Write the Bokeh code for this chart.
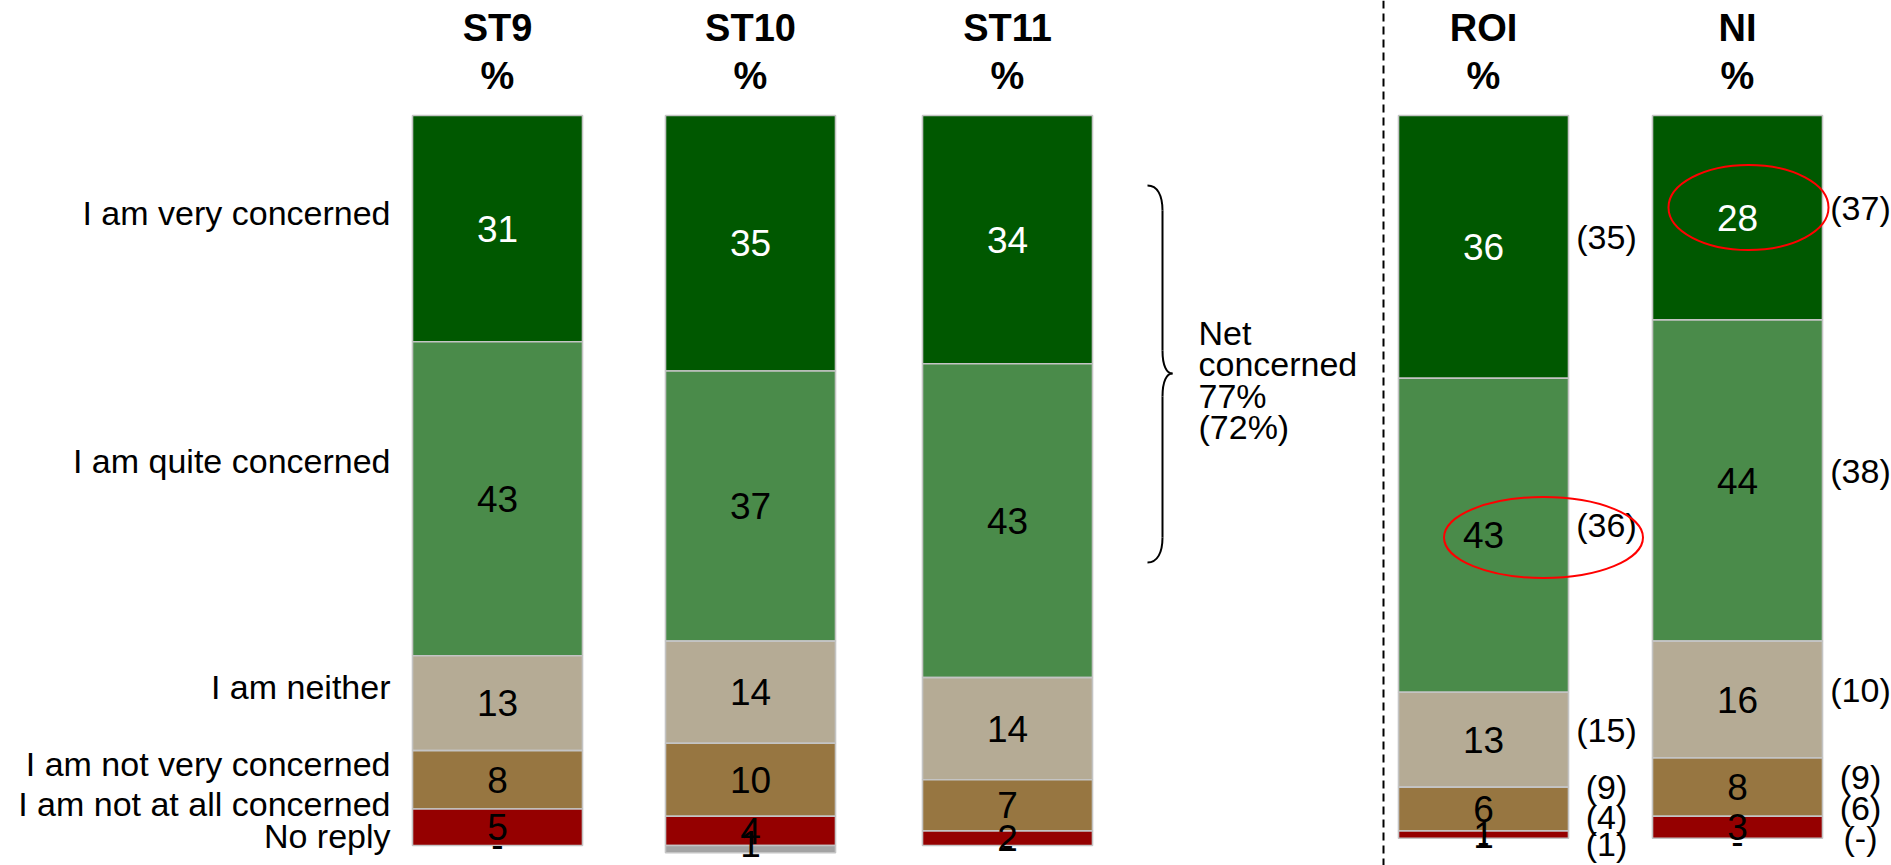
from bokeh.plotting import figure
from bokeh.models import Range1d, ColumnDataSource
from bokeh.embed import file_html
from bokeh.resources import INLINE
from bokeh.core.properties import value

# ---------------- data ----------------
columns = ["ST9", "ST10", "ST11", "ROI", "NI"]
categories = ["I am very concerned", "I am quite concerned", "I am neither",
              "I am not very concerned", "I am not at all concerned", "No reply"]
very_concerned = [31, 35, 34, 36, 28]
quite_concerned = [43, 37, 43, 43, 44]
neither = [13, 14, 14, 13, 16]
not_very_concerned = [8, 10, 7, 6, 8]
not_at_all_concerned = [5, 4, 2, 1, 3]
no_reply = [0, 1, 0, 0, 0]
roi_prior = ["35", "36", "15", "9", "4", "1"]
ni_prior = ["37", "38", "10", "9", "6", "-"]
net_concerned = "77%"
net_concerned_prior = "(72%)"

series = [very_concerned, quite_concerned, neither, not_very_concerned,
          not_at_all_concerned, no_reply]
colors = ["#005800", "#4A8B4A", "#B5AB95", "#977641", "#950000", "#A3A3A3"]
label_colors = ["white", "black", "black", "black", "black", "black"]

# ---------------- layout ----------------
W, H = 1891, 865
TOP_PX = 115.0
PX_PER_PCT = 7.3
col_x = [497, 750, 1007, 1483, 1737]
BAR_W = 170
FONT = value("Liberation Sans")


def py2u(py):
    return (py - TOP_PX) / PX_PER_PCT


Y_MAX = py2u(H - 22)   # lowest allowed text centre (keeps texts inside)


def spread(centers, gap):
    groups = [[i] for i in range(len(centers))]
    while True:
        pos = {}
        spans = []
        for g in groups:
            m = sum(centers[i] for i in g) / len(g)
            for k, i in enumerate(g):
                pos[i] = m + (k - (len(g) - 1) / 2.0) * gap
            spans.append((pos[g[0]], pos[g[-1]]))
        merged = False
        for j in range(len(groups) - 1):
            if spans[j][1] + gap > spans[j + 1][0] + 1e-9:
                groups[j] = groups[j] + groups[j + 1]
                del groups[j + 1]
                merged = True
                break
        if not merged:
            return [pos[i] for i in range(len(centers))]


p = figure(width=W, height=H, x_range=Range1d(0, W),
           y_range=Range1d(py2u(H), py2u(0)),
           toolbar_location=None, output_backend="svg",
           x_axis_type=None, y_axis_type=None, min_border=0,
           outline_line_color=None)
p.grid.visible = False
p.background_fill_color = "white"
p.border_fill_color = "white"

# ---------------- stacked bars ----------------
segs = dict(left=[], right=[], top=[], bottom=[], color=[])
lab = dict(x=[], y=[], text=[], color=[])
centers_by_col = []
for ci, cx in enumerate(col_x):
    cum = 0.0
    centers = []
    for si, s in enumerate(series):
        v = s[ci]
        if v > 0:
            segs["left"].append(cx - BAR_W / 2)
            segs["right"].append(cx + BAR_W / 2)
            segs["top"].append(cum)
            segs["bottom"].append(cum + v)
            segs["color"].append(colors[si])
            lab["x"].append(cx)
            lab["y"].append(min(cum + v / 2.0, Y_MAX))
            lab["text"].append(str(v))
            lab["color"].append(label_colors[si])
            centers.append(cum + v / 2.0)
        else:
            lab["x"].append(cx)
            lab["y"].append(min(cum + 3 / PX_PER_PCT, Y_MAX))
            lab["text"].append("-")
            lab["color"].append("black")
            centers.append(cum)
        cum += v
    centers_by_col.append(centers)

p.quad(left="left", right="right", top="top", bottom="bottom",
       fill_color="color", line_color="#C4C4C4", line_width=1.6,
       source=ColumnDataSource(segs))
p.text(x="x", y="y", text="text", text_color="color",
       text_align="center", text_baseline="middle", text_font=FONT,
       text_font_size=value("37px"), source=ColumnDataSource(lab))

# ---------------- column headers ----------------
p.text(x=col_x, y=[0] * len(col_x), text=columns, y_offset=-88,
       text_align="center", text_baseline="middle", text_font=FONT,
       text_font_style="bold", text_font_size=value("38px"), text_color="black")
p.text(x=col_x, y=[0] * len(col_x), text=["%"] * len(col_x), y_offset=-40,
       text_align="center", text_baseline="middle", text_font=FONT,
       text_font_style="bold", text_font_size=value("38px"), text_color="black")

# ---------------- row labels (aligned to ST9) ----------------
row_y = spread(centers_by_col[0], 4.4)
row_y[1] -= 3.0   # label sits a little higher in the original
p.text(x=[390] * len(categories), y=row_y, text=categories, y_offset=-16,
       text_align="right", text_baseline="middle", text_font=FONT,
       text_font_size=value("34px"), text_color="black")

# ---------------- prior-wave labels for ROI / NI ----------------
for ci, prior in [(3, roi_prior), (4, ni_prior)]:
    ys = spread(centers_by_col[ci], 4.1)
    ys = [min(y - 10 / PX_PER_PCT, Y_MAX) for y in ys]
    xs = [col_x[ci] + BAR_W / 2 + 38] * len(prior)
    p.text(x=xs, y=ys, text=["(" + t + ")" for t in prior],
           text_align="center", text_baseline="middle", text_font=FONT,
           text_font_size=value("34px"), text_color="black")

# ---------------- divider ----------------
p.line(x=[1383, 1383], y=[py2u(0), py2u(H)], line_color="black",
       line_width=2, line_dash="8 5")

# ---------------- brace + net concerned ----------------
bx, by_top, by_mid, by_bot = 1162, 185, 373, 562
p.bezier(x0=[bx - 15, bx, bx + 10, bx],
         y0=[py2u(by_top), py2u(by_mid - 23), py2u(by_mid), py2u(by_bot - 25)],
         x1=[bx, bx + 10, bx, bx - 15],
         y1=[py2u(by_top + 25), py2u(by_mid), py2u(by_mid + 23), py2u(by_bot)],
         cx0=[bx - 5, bx, bx + 4, bx],
         cy0=[py2u(by_top), py2u(by_mid - 8), py2u(by_mid), py2u(by_bot - 10)],
         cx1=[bx, bx + 4, bx, bx - 5],
         cy1=[py2u(by_top + 10), py2u(by_mid), py2u(by_mid + 8), py2u(by_bot)],
         line_color="black", line_width=2)
p.segment(x0=[bx, bx], y0=[py2u(by_top + 25), py2u(by_mid + 23)],
          x1=[bx, bx], y1=[py2u(by_mid - 23), py2u(by_bot - 25)],
          line_color="black", line_width=2)
net_lines = ["Net", "concerned", net_concerned, net_concerned_prior]
p.text(x=[1198] * 4, y=[py2u(332 + 31.5 * k) for k in range(4)], text=net_lines,
       text_align="left", text_baseline="middle", text_font=FONT,
       text_font_size=value("34px"), text_color="black")

# ---------------- highlight ellipses ----------------
p.ellipse(x=[1543, 1748], y=[py2u(537), py2u(207)], width=[199, 160],
          height=[81, 85], width_units="screen", height_units="screen",
          fill_color=None, line_color="#FF0000", line_width=2)

open("out.html", "w").write(file_html(p, INLINE))
